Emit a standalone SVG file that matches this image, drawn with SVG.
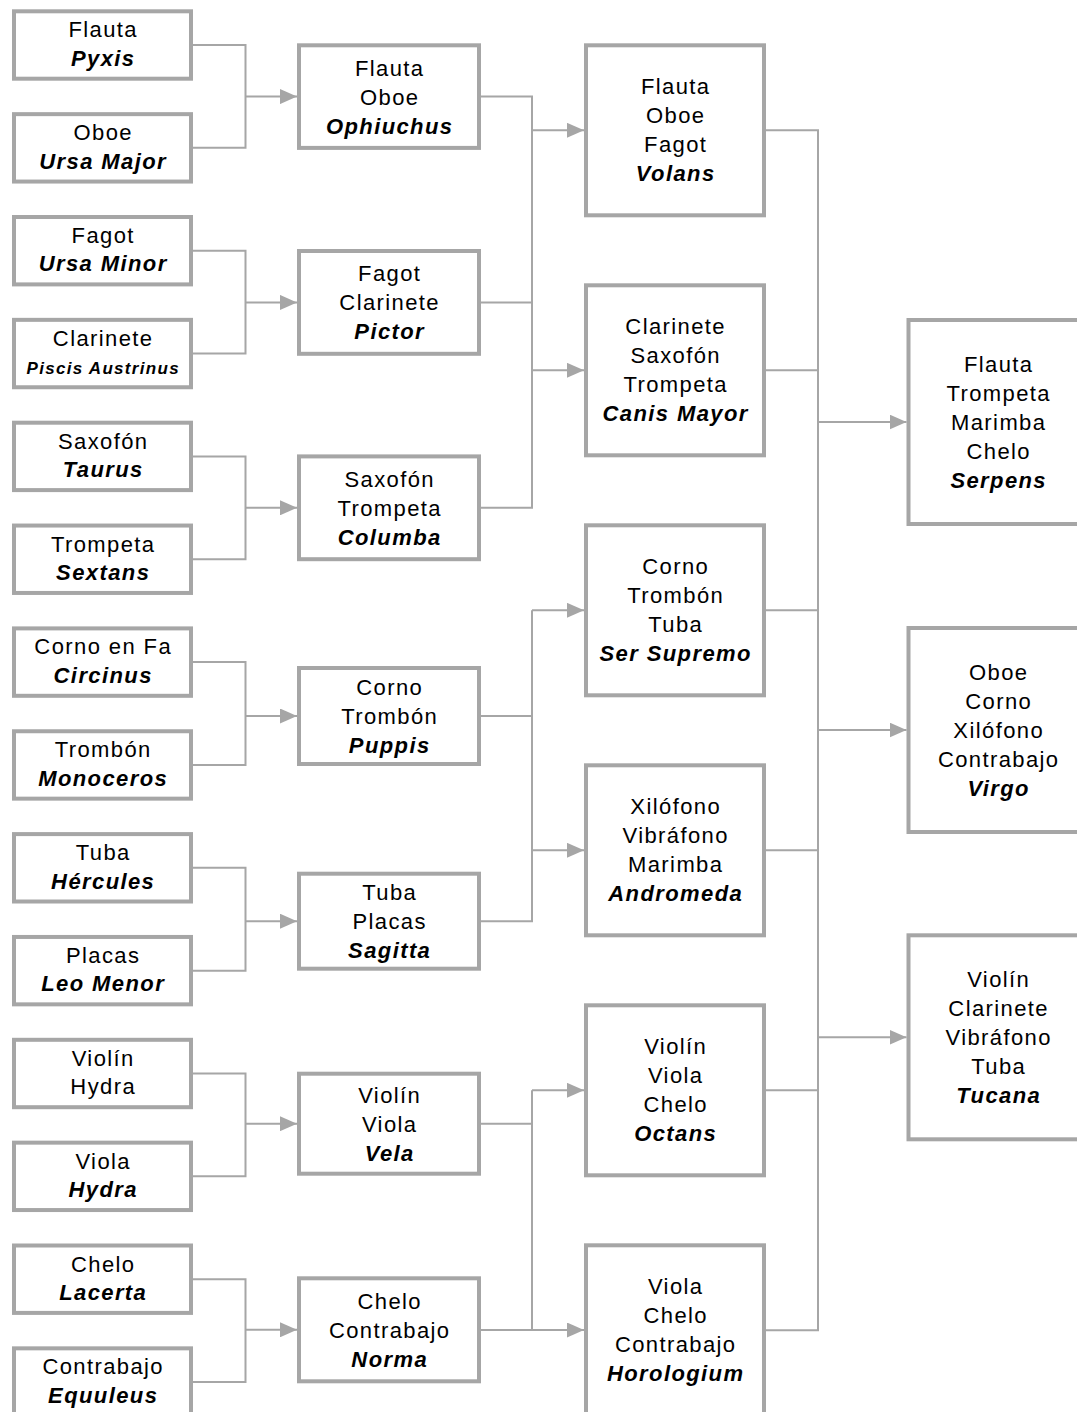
<svg xmlns="http://www.w3.org/2000/svg" width="1077" height="1412" viewBox="0 0 1077 1412">
<style>
.box{fill:#fff;stroke:#a6a6a6;stroke-width:4}
.conn path{fill:none;stroke:#a6a6a6;stroke-width:2}
.conn path.a{marker-end:url(#ah)}
text{font-family:"Liberation Sans",Arial,sans-serif;font-size:22px;letter-spacing:1.4px;text-anchor:middle;fill:#000}
.b{font-weight:bold;font-style:italic}
.s{font-size:17px;letter-spacing:1.3px}
</style>
<defs>
<marker id="ah" markerUnits="userSpaceOnUse" markerWidth="17" markerHeight="15" refX="17" refY="7.5" orient="auto"><path d="M0,0 L17,7.5 L0,15 z" fill="#a6a6a6"/></marker>
</defs>
<rect width="1077" height="1412" fill="#fff"/>
<g class="conn" id="connectors">
<path d="M193,45 H245.5 V147.85 H193"/><path class="a" d="M245.5,96.6 H297"/>
<path d="M193,250.7 H245.5 V353.55 H193"/><path class="a" d="M245.5,302.4 H297"/>
<path d="M193,456.4 H245.5 V559.25 H193"/><path class="a" d="M245.5,507.8 H297"/>
<path d="M193,662.1 H245.5 V764.95 H193"/><path class="a" d="M245.5,716 H297"/>
<path d="M193,867.8 H245.5 V970.65 H193"/><path class="a" d="M245.5,921.2 H297"/>
<path d="M193,1073.5 H245.5 V1176.35 H193"/><path class="a" d="M245.5,1123.7 H297"/>
<path d="M193,1279.2 H245.5 V1382.05 H193"/><path class="a" d="M245.5,1329.8 H297"/>
<path d="M481,96.6 H532 V507.8 H481"/><path d="M481,302.4 H532"/>
<path class="a" d="M532,130.3 H584"/><path class="a" d="M532,370.3 H584"/>
<path d="M481,716 H532"/><path d="M481,921.2 H532 V610.3"/>
<path class="a" d="M532,610.3 H584"/><path class="a" d="M532,850.3 H584"/>
<path d="M481,1123.7 H532"/><path d="M481,1330 H532 V1090.3"/>
<path class="a" d="M532,1090.3 H584"/><path class="a" d="M532,1330 H584"/>
<path d="M766,130.3 H818 V1330.3 H766"/>
<path d="M766,370.3 H818"/><path d="M766,610.3 H818"/><path d="M766,850.3 H818"/><path d="M766,1090.3 H818"/>
<path class="a" d="M818,422 H906.5"/><path class="a" d="M818,730 H906.5"/><path class="a" d="M818,1037.3 H906.5"/>
</g>
<g id="n-pyxis"><rect class="box" x="14" y="11.3" width="177" height="67.4"/><text x="103.2" y="37.3">Flauta</text><text class="b" x="103.2" y="65.7">Pyxis</text></g>
<g id="n-ursamajor"><rect class="box" x="14" y="114.15" width="177" height="67.4"/><text x="103.2" y="140.15">Oboe</text><text class="b" x="103.2" y="168.55">Ursa Major</text></g>
<g id="n-ursaminor"><rect class="box" x="14" y="217" width="177" height="67.4"/><text x="103.2" y="243">Fagot</text><text class="b" x="103.2" y="271.4">Ursa Minor</text></g>
<g id="n-piscis"><rect class="box" x="14" y="319.85" width="177" height="67.4"/><text x="103.2" y="345.85">Clarinete</text><text class="b s" x="103.2" y="374.25">Piscis Austrinus</text></g>
<g id="n-taurus"><rect class="box" x="14" y="422.7" width="177" height="67.4"/><text x="103.2" y="448.7">Saxofón</text><text class="b" x="103.2" y="477.1">Taurus</text></g>
<g id="n-sextans"><rect class="box" x="14" y="525.55" width="177" height="67.4"/><text x="103.2" y="551.55">Trompeta</text><text class="b" x="103.2" y="579.95">Sextans</text></g>
<g id="n-circinus"><rect class="box" x="14" y="628.4" width="177" height="67.4"/><text x="103.2" y="654.4">Corno en Fa</text><text class="b" x="103.2" y="682.8">Circinus</text></g>
<g id="n-monoceros"><rect class="box" x="14" y="731.25" width="177" height="67.4"/><text x="103.2" y="757.25">Trombón</text><text class="b" x="103.2" y="785.65">Monoceros</text></g>
<g id="n-hercules"><rect class="box" x="14" y="834.1" width="177" height="67.4"/><text x="103.2" y="860.1">Tuba</text><text class="b" x="103.2" y="888.5">Hércules</text></g>
<g id="n-leomenor"><rect class="box" x="14" y="936.95" width="177" height="67.4"/><text x="103.2" y="962.95">Placas</text><text class="b" x="103.2" y="991.35">Leo Menor</text></g>
<g id="n-hydra1"><rect class="box" x="14" y="1039.8" width="177" height="67.4"/><text x="103.2" y="1065.8">Violín</text><text x="103.2" y="1094.2">Hydra</text></g>
<g id="n-hydra2"><rect class="box" x="14" y="1142.65" width="177" height="67.4"/><text x="103.2" y="1168.65">Viola</text><text class="b" x="103.2" y="1197.05">Hydra</text></g>
<g id="n-lacerta"><rect class="box" x="14" y="1245.5" width="177" height="67.4"/><text x="103.2" y="1271.5">Chelo</text><text class="b" x="103.2" y="1299.9">Lacerta</text></g>
<g id="n-equuleus"><rect class="box" x="14" y="1348.35" width="177" height="67.4"/><text x="103.2" y="1374.35">Contrabajo</text><text class="b" x="103.2" y="1402.75">Equuleus</text></g>
<g id="n-ophiuchus"><rect class="box" x="299" y="45.3" width="180" height="102.6"/><text x="389.7" y="75.6">Flauta</text><text x="389.7" y="104.6">Oboe</text><text class="b" x="389.7" y="133.6">Ophiuchus</text></g>
<g id="n-pictor"><rect class="box" x="299" y="251" width="180" height="102.8"/><text x="389.7" y="281.4">Fagot</text><text x="389.7" y="310.4">Clarinete</text><text class="b" x="389.7" y="339.4">Pictor</text></g>
<g id="n-columba"><rect class="box" x="299" y="456.4" width="180" height="102.8"/><text x="389.7" y="486.8">Saxofón</text><text x="389.7" y="515.8">Trompeta</text><text class="b" x="389.7" y="544.8">Columba</text></g>
<g id="n-puppis"><rect class="box" x="299" y="668" width="180" height="96"/><text x="389.7" y="695">Corno</text><text x="389.7" y="724">Trombón</text><text class="b" x="389.7" y="753">Puppis</text></g>
<g id="n-sagitta"><rect class="box" x="299" y="873.7" width="180" height="95"/><text x="389.7" y="900.2">Tuba</text><text x="389.7" y="929.2">Placas</text><text class="b" x="389.7" y="958.2">Sagitta</text></g>
<g id="n-vela"><rect class="box" x="299" y="1073.7" width="180" height="100"/><text x="389.7" y="1102.7">Violín</text><text x="389.7" y="1131.7">Viola</text><text class="b" x="389.7" y="1160.7">Vela</text></g>
<g id="n-norma"><rect class="box" x="299" y="1278.3" width="180" height="103"/><text x="389.7" y="1308.8">Chelo</text><text x="389.7" y="1337.8">Contrabajo</text><text class="b" x="389.7" y="1366.8">Norma</text></g>
<g id="n-volans"><rect class="box" x="586" y="45.3" width="178" height="170"/><text x="675.7" y="94.3">Flauta</text><text x="675.7" y="123.3">Oboe</text><text x="675.7" y="152.3">Fagot</text><text class="b" x="675.7" y="181.3">Volans</text></g>
<g id="n-canismayor"><rect class="box" x="586" y="285.3" width="178" height="170"/><text x="675.7" y="334.3">Clarinete</text><text x="675.7" y="363.3">Saxofón</text><text x="675.7" y="392.3">Trompeta</text><text class="b" x="675.7" y="421.3">Canis Mayor</text></g>
<g id="n-sersupremo"><rect class="box" x="586" y="525.3" width="178" height="170"/><text x="675.7" y="574.3">Corno</text><text x="675.7" y="603.3">Trombón</text><text x="675.7" y="632.3">Tuba</text><text class="b" x="675.7" y="661.3">Ser Supremo</text></g>
<g id="n-andromeda"><rect class="box" x="586" y="765.3" width="178" height="170"/><text x="675.7" y="814.3">Xilófono</text><text x="675.7" y="843.3">Vibráfono</text><text x="675.7" y="872.3">Marimba</text><text class="b" x="675.7" y="901.3">Andromeda</text></g>
<g id="n-octans"><rect class="box" x="586" y="1005.3" width="178" height="170"/><text x="675.7" y="1054.3">Violín</text><text x="675.7" y="1083.3">Viola</text><text x="675.7" y="1112.3">Chelo</text><text class="b" x="675.7" y="1141.3">Octans</text></g>
<g id="n-horologium"><rect class="box" x="586" y="1245.3" width="178" height="170"/><text x="675.7" y="1294.3">Viola</text><text x="675.7" y="1323.3">Chelo</text><text x="675.7" y="1352.3">Contrabajo</text><text class="b" x="675.7" y="1381.3">Horologium</text></g>
<g id="n-serpens"><rect class="box" x="908.5" y="320" width="179" height="204"/><text x="998.7" y="372">Flauta</text><text x="998.7" y="401">Trompeta</text><text x="998.7" y="430">Marimba</text><text x="998.7" y="459">Chelo</text><text class="b" x="998.7" y="488">Serpens</text></g>
<g id="n-virgo"><rect class="box" x="908.5" y="628" width="179" height="204"/><text x="998.7" y="680">Oboe</text><text x="998.7" y="709">Corno</text><text x="998.7" y="738">Xilófono</text><text x="998.7" y="767">Contrabajo</text><text class="b" x="998.7" y="796">Virgo</text></g>
<g id="n-tucana"><rect class="box" x="908.5" y="935.3" width="179" height="204"/><text x="998.7" y="987.3">Violín</text><text x="998.7" y="1016.3">Clarinete</text><text x="998.7" y="1045.3">Vibráfono</text><text x="998.7" y="1074.3">Tuba</text><text class="b" x="998.7" y="1103.3">Tucana</text></g>
</svg>
